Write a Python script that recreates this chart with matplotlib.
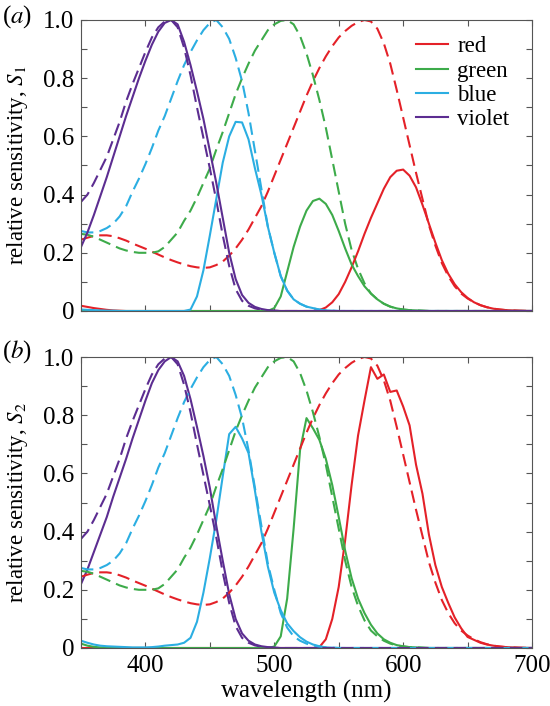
import numpy as np
import matplotlib
matplotlib.use("Agg")
import matplotlib.pyplot as plt

plt.rcParams['font.family'] = ['Liberation Serif', 'DejaVu Serif']
plt.rcParams['mathtext.fontset'] = 'stix'

# wavelength grid (nm), 5 nm steps
wl = np.arange(350, 701, 5)

# receptor sensitivities (dashed, same in both panels)
R_red = [0.245, 0.252, 0.258, 0.26, 0.26, 0.257, 0.25, 0.242, 0.232, 0.223,
         0.214, 0.204, 0.194, 0.184, 0.175, 0.167, 0.16, 0.154, 0.15, 0.148,
         0.15, 0.158, 0.17, 0.19, 0.215, 0.245, 0.28, 0.32, 0.36, 0.41,
         0.465, 0.52, 0.575, 0.63, 0.685, 0.74, 0.79, 0.835, 0.875, 0.91,
         0.94, 0.962, 0.98, 0.993, 1.0, 0.995, 0.97, 0.92, 0.85, 0.76,
         0.665, 0.57, 0.475, 0.385, 0.295, 0.225, 0.165, 0.12, 0.085, 0.06,
         0.043, 0.03, 0.02, 0.013, 0.008, 0.005, 0.003, 0.002, 0.001, 0.0005,
         0.0]
R_green = [0.265, 0.262, 0.255, 0.245, 0.235, 0.225, 0.215, 0.208, 0.203, 0.2,
           0.2, 0.2, 0.205, 0.22, 0.245, 0.27, 0.31, 0.345, 0.39, 0.44,
           0.49, 0.555, 0.615, 0.68, 0.745, 0.8, 0.85, 0.895, 0.93, 0.965,
           0.985, 0.997, 1.0, 0.985, 0.945, 0.885, 0.81, 0.725, 0.63, 0.52,
           0.41, 0.3, 0.21, 0.145, 0.095, 0.06, 0.04, 0.025, 0.015, 0.009,
           0.005, 0.003, 0.002, 0.001, 0, 0, 0, 0, 0, 0,
           0, 0, 0, 0, 0, 0, 0, 0, 0, 0,
           0]
R_blue = [0.275, 0.27, 0.27, 0.275, 0.285, 0.3, 0.325, 0.36, 0.41, 0.455,
          0.505, 0.56, 0.62, 0.67, 0.73, 0.79, 0.845, 0.89, 0.93, 0.965,
          0.99, 1.0, 0.975, 0.935, 0.87, 0.79, 0.68, 0.55, 0.42, 0.29,
          0.2, 0.12, 0.07, 0.04, 0.025, 0.015, 0.009, 0.005, 0.002, 0.001,
          0, 0, 0, 0, 0, 0, 0, 0, 0, 0,
          0, 0, 0, 0, 0, 0, 0, 0, 0, 0,
          0, 0, 0, 0, 0, 0, 0, 0, 0, 0,
          0]
R_violet = [0.375, 0.4, 0.44, 0.485, 0.53, 0.59, 0.65, 0.72, 0.78, 0.835,
            0.89, 0.94, 0.975, 0.995, 1.0, 0.975, 0.905, 0.81, 0.7, 0.595,
            0.49, 0.38, 0.26, 0.155, 0.075, 0.035, 0.018, 0.009, 0.004, 0.002,
            0.001, 0, 0, 0, 0, 0, 0, 0, 0, 0,
            0, 0, 0, 0, 0, 0, 0, 0, 0, 0,
            0, 0, 0, 0, 0, 0, 0, 0, 0, 0,
            0, 0, 0, 0, 0, 0, 0, 0, 0, 0,
            0]

# S1 (panel a, solid)
S1_red = [0.018, 0.014, 0.01, 0.007, 0.004, 0.002, 0.001, 0, 0, 0,
          0, 0, 0, 0, 0, 0, 0, 0, 0, 0,
          0, 0, 0, 0, 0, 0, 0, 0, 0, 0,
          0, 0, 0, 0, 0, 0, 0, 0.003, 0.012, 0.03,
          0.058, 0.1, 0.15, 0.205, 0.265, 0.32, 0.37, 0.42, 0.46, 0.482,
          0.486, 0.465, 0.425, 0.365, 0.3, 0.235, 0.175, 0.128, 0.092, 0.065,
          0.045, 0.03, 0.02, 0.013, 0.008, 0.005, 0.003, 0.002, 0.001, 0.0005,
          0.0]
S1_green = [0, 0, 0, 0, 0, 0, 0, 0, 0, 0,
            0, 0, 0, 0, 0, 0, 0, 0, 0, 0,
            0, 0, 0, 0, 0, 0, 0, 0, 0, 0,
            0.01, 0.05, 0.135, 0.22, 0.29, 0.345, 0.378, 0.386, 0.368, 0.33,
            0.275, 0.215, 0.16, 0.12, 0.085, 0.06, 0.04, 0.025, 0.015, 0.009,
            0.005, 0.003, 0.002, 0.001, 0, 0, 0, 0, 0, 0,
            0, 0, 0, 0, 0, 0, 0, 0, 0, 0,
            0]
S1_blue = [0.005, 0.004, 0.003, 0.002, 0.001, 0.001, 0, 0, 0, 0,
           0, 0, 0, 0, 0, 0, 0, 0.005, 0.05, 0.14,
           0.26, 0.385, 0.51, 0.6, 0.65, 0.648, 0.59, 0.49, 0.4, 0.29,
           0.2, 0.12, 0.07, 0.04, 0.025, 0.015, 0.01, 0.005, 0.002, 0.001,
           0, 0, 0, 0, 0, 0, 0, 0, 0, 0,
           0, 0, 0, 0, 0, 0, 0, 0, 0, 0,
           0, 0, 0, 0, 0, 0, 0, 0, 0, 0,
           0]
S1_violet = [0.22, 0.27, 0.33, 0.395, 0.46, 0.53, 0.6, 0.67, 0.735, 0.8,
             0.86, 0.915, 0.96, 0.99, 1.0, 0.985, 0.925, 0.845, 0.755, 0.66,
             0.55, 0.44, 0.32, 0.2, 0.11, 0.055, 0.028, 0.014, 0.007, 0.003,
             0.001, 0, 0, 0, 0, 0, 0, 0, 0, 0,
             0, 0, 0, 0, 0, 0, 0, 0, 0, 0,
             0, 0, 0, 0, 0, 0, 0, 0, 0, 0,
             0, 0, 0, 0, 0, 0, 0, 0, 0, 0,
             0]

# S2 (panel b, solid)
S2_red = [0, 0, 0, 0, 0, 0, 0, 0, 0, 0,
          0, 0, 0, 0, 0, 0, 0, 0, 0, 0,
          0, 0, 0, 0, 0, 0, 0, 0, 0, 0,
          0, 0, 0, 0, 0, 0, 0, 0.003, 0.03, 0.1,
          0.21, 0.37, 0.56, 0.73, 0.85, 0.965, 0.925, 0.94, 0.88, 0.885,
          0.83, 0.765, 0.63, 0.53, 0.39, 0.285, 0.21, 0.155, 0.105, 0.068,
          0.038, 0.028, 0.018, 0.012, 0.008, 0.005, 0.003, 0.002, 0.001, 0.0005,
          0.0]
S2_green = [0.015, 0.008, 0.004, 0.002, 0.001, 0, 0, 0, 0, 0,
            0, 0, 0, 0, 0, 0, 0, 0, 0, 0,
            0, 0, 0, 0, 0, 0, 0, 0, 0, 0,
            0.005, 0.04, 0.17, 0.41, 0.68, 0.79, 0.755, 0.715, 0.65, 0.56,
            0.45, 0.335, 0.24, 0.17, 0.12, 0.08, 0.05, 0.03, 0.018, 0.01,
            0.006, 0.003, 0.002, 0.001, 0, 0, 0, 0, 0, 0,
            0, 0, 0, 0, 0, 0, 0, 0, 0, 0,
            0]
S2_blue = [0.025, 0.018, 0.012, 0.008, 0.006, 0.005, 0.004, 0.003, 0.002, 0.002,
           0.002, 0.003, 0.005, 0.008, 0.01, 0.012, 0.018, 0.035, 0.09, 0.19,
           0.31, 0.44, 0.59, 0.735, 0.76, 0.72, 0.67, 0.54, 0.4, 0.28,
           0.19, 0.13, 0.085, 0.058, 0.037, 0.022, 0.012, 0.006, 0.002, 0.001,
           0, 0, 0, 0, 0, 0, 0, 0, 0, 0,
           0, 0, 0, 0, 0, 0, 0, 0, 0, 0,
           0, 0, 0, 0, 0, 0, 0, 0, 0, 0,
           0]
S2_violet = [0.22, 0.27, 0.33, 0.39, 0.45, 0.52, 0.585, 0.65, 0.72, 0.785,
             0.85, 0.91, 0.955, 0.985, 1.0, 0.985, 0.935, 0.855, 0.76, 0.66,
             0.55, 0.42, 0.3, 0.185, 0.1, 0.05, 0.025, 0.012, 0.006, 0.003,
             0.001, 0, 0, 0, 0, 0, 0, 0, 0, 0,
             0, 0, 0, 0, 0, 0, 0, 0, 0, 0,
             0, 0, 0, 0, 0, 0, 0, 0, 0, 0,
             0, 0, 0, 0, 0, 0, 0, 0, 0, 0,
             0]

names = ['red', 'green', 'blue', 'violet']
colores = ['#E42128', '#3DAB4A', '#2BAEE2', '#5C2D91']
R = [R_red, R_green, R_blue, R_violet]
S1 = [S1_red, S1_green, S1_blue, S1_violet]
S2 = [S2_red, S2_green, S2_blue, S2_violet]

ytick_lab = ['0', '0.2', '0.4', '0.6', '0.8', '1.0']
xtick_lab = ['400', '500', '600', '700']

fig = plt.figure(figsize=(5.5, 7.06), dpi=100)
ax1 = fig.add_axes([81 / 550, 1 - 311 / 706, 451 / 550, 291 / 706])
ax2 = fig.add_axes([81 / 550, 1 - 648 / 706, 451 / 550, 291 / 706])

lw = 1.5
dash = (6, 3)

# panel a: dashed first, solids on top
for r, c in zip(R, colores):
    ax1.plot(wl, r, color=c, lw=lw, dashes=dash)
for s, c, n in zip(S1, colores, names):
    ax1.plot(wl, s, color=c, lw=lw, label=n)

# panel b: solids first, dashed on top
for s, c in zip(S2, colores):
    ax2.plot(wl, s, color=c, lw=lw)
for r, c in zip(R, colores):
    ax2.plot(wl, r, color=c, lw=lw, dashes=dash)

for ax in [ax1, ax2]:
    ax.set_xlim(350, 700)
    ax.set_ylim(0, 1.0)
    ax.set_xticks([400, 500, 600, 700])
    ax.set_xticks([350, 450, 550, 650], minor=True)
    ax.set_yticks([0, 0.2, 0.4, 0.6, 0.8, 1.0])
    ax.set_yticks([0.1, 0.3, 0.5, 0.7, 0.9], minor=True)
    ax.set_yticklabels(ytick_lab)
    ax.tick_params(which='both', direction='in', top=True, right=True,
                   length=4, width=0.8, color='#555555', labelsize=18, pad=5)
    for sp in ax.spines.values():
        sp.set_color('#555555')
        sp.set_linewidth(0.8)
    ax.yaxis.set_label_coords(-0.112, 0.58)

ax1.set_xticklabels([])
ax2.set_xticklabels(xtick_lab)

ax1.set_ylabel('relative sensitivity, $S_1$', fontsize=16.5)
ax2.set_ylabel('relative sensitivity, $S_2$', fontsize=16.5)
ax2.set_xlabel('wavelength (nm)', fontsize=18, labelpad=2)

ax1.legend(loc='upper right', bbox_to_anchor=(0.95, 0.945), frameon=False,
           fontsize=16.5, handlelength=1.4, handletextpad=0.4,
           labelspacing=0.15, borderpad=0, borderaxespad=0)

fig.text(0.003, 1 - 17 / 706, r'($\mathit{a}$)', fontsize=18, va='center')
fig.text(0.003, 1 - 352 / 706, r'($\mathit{b}$)', fontsize=18, va='center')

plt.savefig('out.png', dpi=100)
